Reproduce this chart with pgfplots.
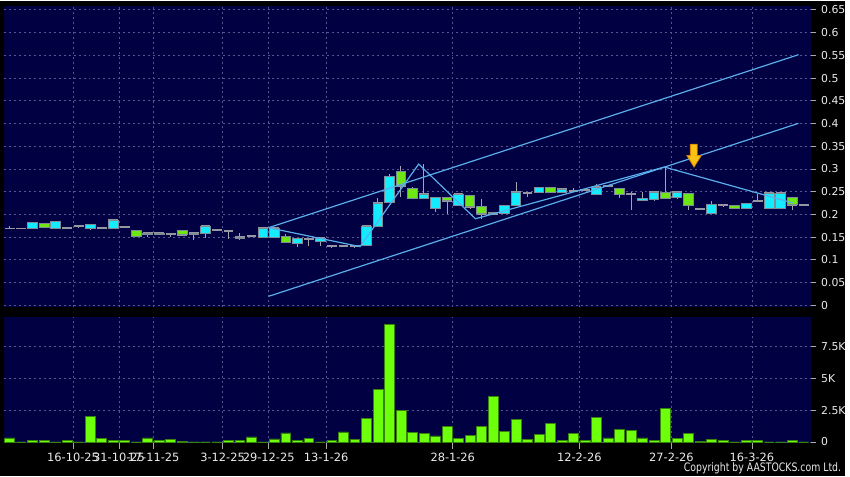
\documentclass[border=0pt]{standalone}
\usepackage{fontspec}
\setmainfont{DejaVu Sans}
\newfontfamily\condfont[FakeStretch=0.8]{DejaVu Sans}
\usepackage{pgfplots}
\usepackage{pgfplotstable}
\pgfplotsset{compat=1.18}

\definecolor{bgc}{RGB}{0,0,66}
\definecolor{gridc}{RGB}{85,85,140}
\definecolor{upc}{RGB}{20,235,255}
\definecolor{dnc}{RGB}{110,230,20}
\definecolor{edgec}{RGB}{125,140,150}
\definecolor{wickc}{RGB}{165,165,175}
\definecolor{flatc}{RGB}{150,150,160}
\definecolor{linec}{RGB}{90,175,235}
\definecolor{volc}{RGB}{110,255,10}
\definecolor{voledge}{RGB}{55,130,10}
\definecolor{txtc}{RGB}{235,235,235}
\definecolor{tickc}{RGB}{170,170,170}
\definecolor{arrowc}{RGB}{250,195,20}
\definecolor{arrowedge}{RGB}{215,130,0}

% daily candles: index, open, high, low, close
\pgfplotstableread{
i o h l c
0 0.169 0.174 0.169 0.169
1 0.169 0.169 0.169 0.169
2 0.170 0.182 0.170 0.182
3 0.179 0.179 0.172 0.172
4 0.170 0.184 0.170 0.184
5 0.171 0.171 0.171 0.171
6 0.174 0.174 0.169 0.174
7 0.169 0.177 0.165 0.177
8 0.170 0.170 0.170 0.170
9 0.168 0.187 0.168 0.187
10 0.172 0.172 0.169 0.172
11 0.165 0.165 0.152 0.152
12 0.155 0.159 0.150 0.159
13 0.155 0.159 0.155 0.159
14 0.156 0.156 0.150 0.156
15 0.165 0.165 0.155 0.155
16 0.155 0.159 0.143 0.159
17 0.158 0.174 0.148 0.174
18 0.166 0.166 0.166 0.166
19 0.164 0.164 0.146 0.164
20 0.146 0.159 0.143 0.150
21 0.152 0.152 0.152 0.152
22 0.150 0.170 0.150 0.170
23 0.150 0.170 0.150 0.170
24 0.152 0.156 0.139 0.139
25 0.135 0.146 0.128 0.146
26 0.146 0.146 0.130 0.146
27 0.140 0.148 0.130 0.148
28 0.131 0.131 0.126 0.131
29 0.130 0.130 0.130 0.130
30 0.130 0.130 0.125 0.130
31 0.131 0.174 0.131 0.174
32 0.174 0.236 0.174 0.225
33 0.227 0.288 0.227 0.283
34 0.295 0.307 0.239 0.263
35 0.256 0.261 0.236 0.236
36 0.236 0.310 0.236 0.244
37 0.214 0.237 0.206 0.237
38 0.238 0.238 0.201 0.230
39 0.219 0.244 0.219 0.244
40 0.241 0.241 0.212 0.217
41 0.217 0.234 0.190 0.201
42 0.205 0.205 0.201 0.201
43 0.201 0.219 0.201 0.219
44 0.219 0.271 0.219 0.249
45 0.248 0.248 0.239 0.248
46 0.248 0.259 0.248 0.259
47 0.260 0.260 0.249 0.249
48 0.248 0.255 0.248 0.255
49 0.252 0.257 0.252 0.252
50 0.254 0.254 0.254 0.254
51 0.244 0.266 0.244 0.260
52 0.263 0.263 0.263 0.263
53 0.256 0.256 0.237 0.244
54 0.244 0.250 0.210 0.244
55 0.230 0.250 0.230 0.234
56 0.233 0.249 0.230 0.249
57 0.249 0.305 0.236 0.236
58 0.238 0.249 0.233 0.249
59 0.247 0.247 0.210 0.220
60 0.212 0.215 0.212 0.212
61 0.203 0.230 0.203 0.221
62 0.220 0.220 0.216 0.220
63 0.220 0.220 0.214 0.214
64 0.214 0.223 0.214 0.223
65 0.230 0.245 0.230 0.230
66 0.212 0.247 0.212 0.247
67 0.214 0.247 0.214 0.247
68 0.238 0.238 0.210 0.221
69 0.221 0.221 0.221 0.221
}\candles

% volume in thousands
\pgfplotstableread{
i v
0 0.31
1 0
2 0.08
3 0.08
4 0
5 0.08
6 0
7 2.03
8 0.28
9 0.1
10 0.1
11 0
12 0.31
13 0.08
14 0.2
15 0.02
16 0
17 0
18 0
19 0.08
20 0.15
21 0.39
22 0
23 0.23
24 0.7
25 0.08
26 0.26
27 0
28 0.15
29 0.78
30 0.2
31 1.82
32 4.11
33 9.22
34 2.45
35 0.75
36 0.67
37 0.47
38 1.22
39 0.26
40 0.52
41 1.22
42 3.54
43 0.83
44 1.74
45 0.2
46 0.62
47 1.43
48 0.15
49 0.67
50 0.1
51 1.9
52 0.31
53 1.0
54 0.91
55 0.31
56 0.1
57 2.63
58 0.26
59 0.65
60 0.02
61 0.2
62 0.08
63 0
64 0.13
65 0.08
66 0
67 0
68 0.08
69 0
}\volume

\pgfplotsset{
  chart/.style={scale only axis, width=608.25pt, xmin=-0.5, xmax=69.59,
    enlargelimits=false, anchor=south west, axis line style={draw=none}},
  price/.style={chart, at={(3pt,127.5pt)}, height=227.25pt, ymin=-0.0044, ymax=0.6586},
  dates/.style={xtick={5.5,9.5,12.5,18.5,22.5,27.5,38.5,49.5,57.5,64.5}},
  rightticks/.style={ytick pos=right, yticklabel pos=right, tick align=outside,
    major tick length=4.5pt, ytick style={tickc, line width=0.6pt},
    yticklabel style={font=\fontsize{8.2}{9}\selectfont, text=txtc},
    grid=major, major grid style={gridc, dash pattern=on 1.5pt off 2.25pt, line width=0.6pt},
    axis background/.style={fill=bgc}},
}

\begin{document}
\begin{tikzpicture}
\fill[black] (0,0) rectangle (637.5pt,358.5pt);

% price panel: grid, wicks and flat (open = close) candles
\begin{axis}[price, rightticks, dates, xticklabels={}, xtick style={draw=none},
  ytick={0,0.05,0.1,0.15,0.2,0.25,0.3,0.35,0.4,0.45,0.5,0.55,0.6,0.65},
  yticklabels={0,0.05,0.1,0.15,0.2,0.25,0.3,0.35,0.4,0.45,0.5,0.55,0.6,0.65}]
\addplot[draw=none, only marks, mark size=0pt, mark options={draw=none, fill=none},
  error bars/.cd, y dir=plus, y explicit, error mark=none,
  error bar style={draw=wickc, line width=0.75pt}]
  table[x=i, y=l, y error expr=\thisrow{h}-\thisrow{l}] {\candles};
\addplot[only marks, mark=-, mark size=3.65pt, mark options={draw=flatc, line width=1.4pt}]
  table[x=i, y=c] {\candles};
\end{axis}

% candle bodies
\begin{axis}[price, hide axis, ybar stacked, bar width=0.84]
\addplot[draw=none, fill=none] table[x=i, y expr={min(\thisrow{o},\thisrow{c})}] {\candles};
\addplot[fill=upc, draw=edgec, line width=0.75pt] table[x=i, y expr={max(\thisrow{c}-\thisrow{o},0)}] {\candles};
\addplot[fill=dnc, draw=edgec, line width=0.75pt] table[x=i, y expr={max(\thisrow{o}-\thisrow{c},0)}] {\candles};
\end{axis}

% trend lines and marker
\begin{axis}[price, hide axis]
\addplot[linec, line width=0.9pt] coordinates {(22.49,0.1707) (68.55,0.5514)};
\addplot[linec, line width=0.9pt] coordinates {(22.49,0.0197) (68.55,0.4004)};
\addplot[linec, line width=0.9pt] coordinates {(22.49,0.1707) (30.44,0.1291) (35.54,0.3107) (40.47,0.1904) (56.89,0.3042) (68.04,0.2254)};
\addplot[fill=arrowc, draw=arrowedge, line width=0.6pt] coordinates {(59.15,0.3545) (59.74,0.3545) (59.74,0.3293) (60.09,0.3293) (59.47,0.3042) (58.85,0.3293) (59.15,0.3293) (59.15,0.3545)};
\end{axis}

% volume panel
\begin{axis}[chart, rightticks, dates, at={(3pt,25.5pt)}, height=94.5pt, ymin=-0.05, ymax=9.79,
  xticklabels={16-10-25,31-10-25,17-11-25,3-12-25,29-12-25,13-1-26,28-1-26,12-2-26,27-2-26,16-3-26},
  xtick pos=bottom, xtick style={tickc, line width=0.6pt},
  xticklabel style={font=\fontsize{8.6}{9}\selectfont, text=txtc},
  ytick={0,2.5,5,7.5}, yticklabels={0,2.5K,5K,7.5K},
  ybar, bar width=0.86, bar shift=0pt]
\addplot[fill=volc, draw=voledge, line width=0.6pt] table[x=i, y=v] {\volume};
\end{axis}

\node[anchor=south east, inner sep=0pt, text=txtc, font=\condfont\fontsize{8.8}{10}\selectfont]
  at (634.5pt,1.5pt) {Copyright by AASTOCKS.com Ltd.};
\end{tikzpicture}
\end{document}
